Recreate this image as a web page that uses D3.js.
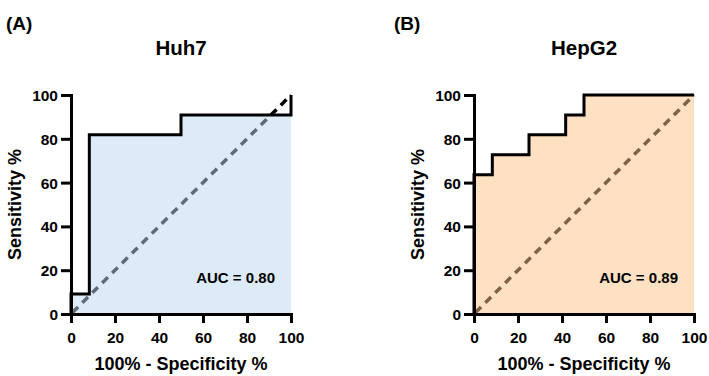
<!DOCTYPE html>
<html>
<head>
<meta charset="utf-8">
<script src="https://cdn.jsdelivr.net/npm/d3@7"></script>
<style>
  body { margin: 0; background: #fff; }
  svg text { font-family: "Liberation Sans", Arial, Helvetica, sans-serif; font-weight: bold; fill: #000; }
</style>
</head>
<body>
<svg id="chart" width="709" height="376"></svg>
<script>
// ROC points (100% - specificity, sensitivity)
var huh7Fpr = [0, 0, 8.33, 8.33, 50, 50, 100, 100];
var huh7Tpr = [0, 9.09, 9.09, 81.82, 81.82, 90.91, 90.91, 100];
var hepg2Fpr = [0, 0, 8.33, 8.33, 25, 25, 41.67, 41.67, 50, 50, 100];
var hepg2Tpr = [0, 63.64, 63.64, 72.73, 72.73, 81.82, 81.82, 90.91, 90.91, 100, 100];
var ticks = [0, 20, 40, 60, 80, 100];
var panelTags = ["(A)", "(B)"];
var titles = ["Huh7", "HepG2"];
var aucs = ["AUC = 0.80", "AUC = 0.89"];

var panels = [
  { tag: panelTags[0], title: titles[0], auc: aucs[0], fpr: huh7Fpr, tpr: huh7Tpr,
    left: 71, tagX: 6, fill: "rgb(187,215,241)" },
  { tag: panelTags[1], title: titles[1], auc: aucs[1], fpr: hepg2Fpr, tpr: hepg2Tpr,
    left: 474, tagX: 394, fill: "rgb(251,195,133)" }
];

var svg = d3.select("#chart");
var plotW = 220, plotH = 219, plotTop = 95;

panels.forEach(function(p) {
  var x = d3.scaleLinear().domain([0, 100]).range([0, plotW]);
  var y = d3.scaleLinear().domain([0, 100]).range([plotH, 0]);
  var pts = p.fpr.map(function(d, i) { return [d, p.tpr[i]]; });

  svg.append("text")
    .attr("x", p.tagX).attr("y", 30)
    .style("font-size", "19px")
    .text(p.tag);

  var g = svg.append("g").attr("transform", "translate(" + p.left + "," + plotTop + ")");

  g.append("text")
    .attr("x", plotW / 2).attr("y", -40)
    .attr("text-anchor", "middle")
    .style("font-size", "20.5px")
    .text(p.title);

  // chance line, drawn under the translucent fill
  g.append("line")
    .attr("x1", x(0)).attr("y1", y(0))
    .attr("x2", x(100)).attr("y2", y(100))
    .attr("stroke", "#000")
    .attr("stroke-width", 3.5)
    .attr("stroke-dasharray", "8,6")
    .attr("stroke-dashoffset", -2);

  g.append("path")
    .datum(pts)
    .attr("d", d3.area().x(function(d) { return x(d[0]); }).y0(y(0)).y1(function(d) { return y(d[1]); }))
    .attr("fill", p.fill)
    .attr("fill-opacity", 0.5);

  g.append("path")
    .datum(pts)
    .attr("d", d3.line().x(function(d) { return x(d[0]); }).y(function(d) { return y(d[1]); }))
    .attr("fill", "none")
    .attr("stroke", "#000")
    .attr("stroke-width", 3);

  var xAxis = g.append("g")
    .attr("transform", "translate(0," + plotH + ")")
    .call(d3.axisBottom(x).tickValues(ticks).tickSize(9).tickSizeOuter(0).tickPadding(9));
  var yAxis = g.append("g")
    .call(d3.axisLeft(y).tickValues(ticks).tickSize(10).tickSizeOuter(0).tickPadding(3));

  [xAxis, yAxis].forEach(function(a) {
    a.select(".domain").attr("stroke", "#000").attr("stroke-width", 3).attr("stroke-linecap", "square");
    a.selectAll(".tick line").attr("stroke", "#000").attr("stroke-width", 3);
    a.selectAll(".tick text")
      .style("font-size", "15.5px")
      .style("font-family", "'Liberation Sans', Arial, sans-serif")
      .style("font-weight", "bold")
      .attr("fill", "#000");
  });
  yAxis.selectAll(".tick text").attr("dy", "0.36em");

  g.append("text")
    .attr("x", x(100) - 16).attr("y", y(14.2))
    .attr("text-anchor", "end")
    .style("font-size", "15px")
    .text(p.auc);

  g.append("text")
    .attr("x", plotW / 2).attr("y", plotH + 56)
    .attr("text-anchor", "middle")
    .style("font-size", "18px")
    .text("100% - Specificity %");

  g.append("text")
    .attr("transform", "translate(-50," + plotH / 2 + ") rotate(-90)")
    .attr("text-anchor", "middle")
    .style("font-size", "18px")
    .text("Sensitivity %");
});
</script>
</body>
</html>
